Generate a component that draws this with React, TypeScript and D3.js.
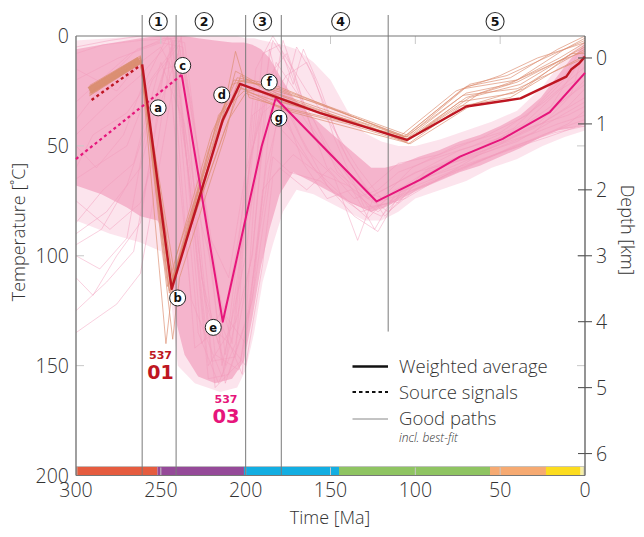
import React from 'react';
import * as d3 from 'd3';

const W = 644;
const H = 537;

const xTicks = [300, 250, 200, 150, 100, 50, 0];
const yTicks = [0, 50, 100, 150, 200];
const depthTicks = [0, 1, 2, 3, 4, 5, 6];
const minorX = [250, 200, 150, 100, 50];
const minorY = [50, 100, 150];
const periodBounds = [261, 241, 200, 179, 116];
const periodLabels = ['1', '2', '3', '4', '5'];
const periodLabelTimes = [251.5, 224.5, 190, 144, 53];
const eraStarts = [300, 252, 201, 145, 56, 23, 2.6];
const eraEnds = [252, 201, 145, 56, 23, 2.6, 0];
const eraColors = ['#E55C3F', '#954A99', '#13AEE2', '#8FC462', '#F6AA72', '#FCDC1E', '#F6EFA8'];

// weighted averages [Ma, °C]
const avg01: [number, number][] = [[261, 12.9], [243.6, 115.1], [213.5, 38.2], [203.4, 21.8], [156, 35.1], [105, 47.3], [70, 32.1], [38, 28.4], [11, 18.5], [8, 15.1], [3.4, 12.4], [0, 9.4]];
const avg03: [number, number][] = [[237.7, 17.7], [213.5, 130], [190.6, 50.3], [182.3, 28.3], [151.5, 52.7], [122.8, 75.3], [97.3, 65.5], [73.7, 54.9], [48.5, 46.8], [20.7, 34.6], [0, 16.8]];
const src01: [number, number][] = [[290.8, 29.1], [262.3, 13.5]];
const src03: [number, number][] = [[300, 56], [237.7, 17.7]];
// converged bundle of sample-01 paths before 262 Ma
const band01: [number, number][] = [[292, 24.8], [262.5, 11]];

// dense envelope of good paths, sample 03
const core03Time = [300, 285, 270, 262, 252, 246, 241, 236, 228, 218, 208, 201, 196, 191, 186, 180, 172, 162, 150, 138, 126, 118, 108, 98, 86, 74, 62, 50, 38, 26, 16, 8, 0];
const core03Top = [6, 4, 2, 1, 0, 0, 0, 0, 1, 2, 3, 3, 4, 6, 10, 18, 28, 36, 44, 52, 60, 60, 58, 55, 52, 48, 45, 41, 36, 28, 18, 10, 4];
const core03Bot = [68, 72, 78, 82, 84, 92, 130, 145, 155, 158, 156, 148, 128, 105, 88, 72, 62, 66, 71, 76, 80, 78, 74, 70, 66, 62, 59, 55, 51, 46, 43, 42, 40];

// looser envelope, sample 03
const loose03Time = [300, 280, 262, 250, 244, 240, 230, 215, 205, 200, 195, 190, 184, 178, 170, 160, 150, 140, 130, 120, 110, 100, 85, 70, 55, 40, 25, 12, 0];
const loose03Top = [2, 1, 0, 0, 0, 0, 0, 0, 0, 1, 1, 2, 3, 4, 6, 12, 20, 34, 44, 48, 50, 50, 47, 43, 39, 34, 23, 10, 2];
const loose03Bot = [84, 90, 94, 98, 120, 150, 158, 162, 160, 152, 135, 112, 95, 80, 70, 72, 76, 80, 84, 84, 80, 74, 70, 66, 60, 56, 50, 46, 43];

// individual good paths, sample 03
const paths03: [number, number][][] = [
  [[300, 8], [284, 4], [262, 2], [240, 1], [226, 60], [214, 150], [200, 100], [188, 20], [176, 8], [166, 30], [150, 52], [126, 80], [110, 70], [90, 60], [60, 52], [30, 44], [12, 30], [0, 20]],
  [[300, 20], [275, 10], [250, 3], [237, 5], [212, 158], [196, 120], [186, 40], [172, 30], [155, 50], [140, 66], [124, 88], [112, 72], [80, 62], [50, 53], [25, 45], [0, 38]],
  [[300, 45], [280, 30], [262, 18], [244, 2], [228, 80], [208, 140], [198, 60], [184, 2], [174, 15], [162, 40], [146, 58], [128, 74], [100, 62], [70, 56], [40, 48], [18, 38], [0, 30]],
  [[300, 65], [270, 50], [255, 20], [239, 4], [218, 160], [203, 148], [192, 90], [182, 40], [170, 50], [150, 70], [132, 80], [116, 76], [96, 68], [66, 58], [38, 50], [14, 42], [0, 41]],
  [[300, 90], [282, 80], [262, 60], [246, 10], [232, 120], [214, 155], [196, 100], [186, 6], [178, 30], [164, 52], [148, 64], [134, 93], [124, 72], [104, 64], [74, 52], [44, 45], [20, 32], [0, 8]],
  [[300, 100], [286, 106], [270, 92], [258, 40], [242, 2], [222, 150], [206, 130], [194, 30], [182, 20], [168, 45], [152, 68], [136, 82], [122, 89], [108, 70], [80, 58], [52, 50], [28, 40], [8, 26], [0, 5]],
  [[300, 125], [282, 112], [266, 98], [250, 30], [240, 8], [226, 140], [210, 120], [198, 80], [188, 45], [178, 2], [170, 20], [160, 45], [142, 60], [128, 70], [110, 58], [86, 54], [60, 46], [34, 36], [12, 18], [0, 3]],
  [[300, 135], [276, 122], [262, 108], [250, 55], [238, 0], [218, 145], [204, 152], [194, 110], [184, 55], [174, 62], [156, 66], [140, 75], [120, 82], [100, 66], [76, 60], [46, 52], [22, 46], [0, 40]],
  [[300, 110], [290, 118], [276, 100], [262, 85], [248, 15], [236, 12], [214, 125], [200, 140], [190, 70], [180, 60], [164, 70], [150, 60], [126, 78], [106, 74], [84, 64], [56, 55], [30, 47], [10, 40], [0, 34]],
  [[300, 5], [280, 2], [262, 0], [242, 0], [232, 30], [220, 100], [212, 145], [204, 95], [194, 15], [184, 0], [176, 10], [164, 25], [150, 40], [134, 60], [120, 74], [102, 60], [76, 50], [50, 44], [24, 30], [0, 14]],
  [[300, 30], [268, 8], [248, 1], [236, 3], [222, 90], [210, 110], [200, 62], [190, 35], [180, 28], [166, 58], [152, 74], [138, 70], [122, 80], [104, 68], [78, 56], [48, 48], [26, 40], [0, 28]],
  [[300, 75], [280, 88], [262, 76], [252, 50], [243, 2], [228, 135], [216, 158], [206, 140], [196, 98], [186, 18], [176, 40], [160, 60], [144, 72], [128, 83], [112, 70], [92, 64], [62, 54], [36, 46], [16, 40], [0, 36]],
  [[300, 95], [285, 88], [270, 68], [256, 35], [244, 5], [230, 142], [214, 132], [202, 154], [192, 40], [182, 12], [168, 28], [152, 60], [136, 74], [122, 70], [110, 62], [90, 56], [66, 50], [42, 42], [20, 26], [0, 10]],
  [[300, 50], [288, 60], [272, 45], [262, 25], [246, 0], [234, 60], [222, 156], [210, 154], [198, 126], [188, 60], [180, 35], [170, 5], [160, 18], [148, 46], [130, 78], [114, 76], [92, 60], [64, 52], [36, 40], [14, 24], [0, 18]],
  [[300, 15], [276, 25], [262, 12], [250, 5], [240, 20], [224, 130], [212, 138], [200, 150], [190, 104], [184, 64], [172, 54], [158, 62], [140, 68], [124, 76], [108, 72], [88, 66], [58, 52], [30, 42], [10, 32], [0, 24]],
  [[300, 60], [290, 45], [270, 35], [258, 22], [238, 1], [226, 110], [216, 140], [206, 100], [196, 52], [188, 24], [176, 28], [160, 38], [146, 62], [130, 72], [116, 80], [100, 70], [70, 60], [42, 50], [18, 44], [0, 41]],
  [[300, 38], [282, 20], [264, 6], [244, 1], [224, 120], [212, 150], [198, 70], [190, 8], [180, 4], [172, 22], [166, 6], [156, 24], [144, 50], [132, 66], [118, 82], [96, 64], [60, 50], [28, 38], [0, 22]],
  [[300, 85], [284, 70], [266, 58], [250, 12], [236, 40], [220, 148], [206, 146], [196, 36], [186, 30], [176, 18], [164, 12], [152, 34], [140, 56], [126, 72], [110, 76], [94, 62], [64, 54], [34, 42], [10, 36], [0, 32]],
];

// individual good paths, sample 01
const paths01: [number, number][][] = [
  [[292, 22.5], [262, 9], [244, 112], [214, 40], [204, 20], [180, 24], [105, 45], [72, 24], [40, 20], [12, 6], [0, 1]],
  [[292, 23.5], [262, 9.5], [245, 116], [218, 50], [206, 16], [182, 26], [106, 46], [70, 26], [45, 22], [15, 10], [0, 3]],
  [[292, 24.5], [262, 10.5], [243, 110], [212, 42], [202, 22], [178, 30], [104, 47], [68, 28], [38, 22], [10, 9], [0, 5]],
  [[292, 25.5], [262, 11], [244, 118], [216, 36], [203, 24], [180, 27], [105, 48], [74, 30], [42, 26], [14, 12], [0, 6]],
  [[292, 26.5], [262, 12], [246, 114], [220, 44], [205, 19], [184, 22], [107, 46], [70, 23], [44, 19], [16, 6], [0, 0]],
  [[292, 27.2], [262, 12.5], [242, 108], [210, 38], [200, 26], [176, 34], [103, 49], [66, 31], [36, 24], [8, 8], [0, 8]],
  [[292, 24], [262, 10], [247, 140], [241, 100], [214, 38], [206, 7], [198, 28], [180, 32], [104, 46], [72, 27], [40, 24], [12, 14], [0, 10]],
  [[292, 26], [262, 11.5], [243, 138], [239, 110], [212, 45], [203, 18], [180, 28], [105, 47], [70, 28], [40, 21], [12, 10], [0, 4]],
  [[292, 23], [262, 10], [244, 113], [222, 52], [207, 20], [186, 23], [150, 33], [105, 46], [68, 22], [46, 18], [18, 8], [0, 2]],
  [[292, 25], [262, 11], [245, 117], [216, 44], [204, 23], [178, 33], [140, 40], [106, 48], [74, 32], [44, 28], [18, 16], [0, 9]],
  [[292, 27], [262, 12], [243, 111], [214, 35], [201, 25], [180, 30], [130, 40], [104, 49], [62, 26], [40, 20], [14, 11], [0, 7]],
  [[292, 26], [262, 11], [244, 115], [218, 42], [208, 22], [200, 20], [182, 25], [160, 30], [108, 45], [76, 25], [50, 18], [28, 10], [0, 3]],
];

// point annotations [Ma, °C]
const markLetters = ['a', 'b', 'c', 'd', 'e', 'f', 'g'];
const markTimes = [251.6, 240.1, 237.1, 214.1, 219.1, 186.1, 180.4];
const markTemps = [32.7, 119.2, 13.4, 26.8, 132.6, 21, 37.4];

const legendLabels = ['Weighted average', 'Source signals', 'Good paths'];

const FONT = "'Open Sans', 'Noto Sans', sans-serif";
const BOLD = "'DejaVu Sans', sans-serif";

export default function App() {
  const x = d3.scaleLinear().domain([300, 0]).range([76, 585]);
  const y = d3.scaleLinear().domain([0, 200]).range([36, 475.5]);
  const yDepth = (d: number) => y(10 + 30 * d);
  const line = d3.line<[number, number]>().x(d => x(d[0])).y(d => y(d[1]));
  const area = (ts: number[], top: number[], bot: number[]) =>
    d3.area<number>().x((_, i) => x(ts[i])).y0((_, i) => y(top[i])).y1((_, i) => y(bot[i]))(ts) || '';

  const x0 = x(300), x1 = x(0), yTop = y(0), yBot = y(200);

  return (
    <div style={{ position: 'absolute', left: 0, top: 0 }}>
      <svg width={W} height={H} style={{ display: 'block', background: '#fff' }}>
        <defs>
          <clipPath id="plot">
            <rect x={x0} y={yTop} width={x1 - x0} height={yBot - yTop} />
          </clipPath>
        </defs>
        <g clipPath="url(#plot)">
          <path d={area(loose03Time, loose03Top, loose03Bot)} fill="#F7BCD1" opacity={0.4} />
          <path d={area(core03Time, core03Top, core03Bot)} fill="#F4AEC8" opacity={0.9} />
          {paths03.map((p, i) => (
            <path key={'p3' + i} d={line(p) || ''} fill="none" stroke="#F29DBC" strokeWidth={0.8} opacity={0.6} />
          ))}
          <path d={line(band01) || ''} fill="none" stroke="#D99378" strokeWidth={7.5} strokeLinecap="butt" />
          {paths01.map((p, i) => (
            <path key={'p1' + i} d={line(p) || ''} fill="none" stroke="#DC8E72" strokeWidth={0.9} opacity={0.75} />
          ))}
        </g>

        {/* geological time bar */}
        {eraStarts.map((s, i) => (
          <rect key={'era' + i} x={x(s)} y={466.5} width={x(eraEnds[i]) - x(s)} height={9} fill={eraColors[i]} />
        ))}
        <rect x={x0 + 1} y={466.5} width={x1 - x0 - 2} height={9} fill="none" stroke="#bbb" strokeWidth={0.8} />

        {/* faint inner ticks */}
        {minorX.map(t => (
          <g key={'mx' + t}>
            <line x1={x(t)} x2={x(t)} y1={yTop} y2={yTop + 8} stroke="#c8c8c8" strokeWidth={1} />
            <line x1={x(t)} x2={x(t)} y1={yBot} y2={yBot - 8} stroke="#c8c8c8" strokeWidth={1} />
          </g>
        ))}
        {minorY.map(t => (
          <g key={'my' + t}>
            <line x1={x0} x2={x0 + 8} y1={y(t)} y2={y(t)} stroke="#c8c8c8" strokeWidth={1} />
            <line x1={x1} x2={x1 - 8} y1={y(t)} y2={y(t)} stroke="#c8c8c8" strokeWidth={1} />
          </g>
        ))}

        {/* period boundaries */}
        {periodBounds.map((t, i) => (
          <line key={'pb' + t} x1={x(t)} x2={x(t)} y1={15} y2={i === 4 ? y(134.5) : yBot} stroke="#7a7a7a" strokeWidth={1} />
        ))}

        {/* frame */}
        <line x1={x0} x2={x1} y1={yTop} y2={yTop} stroke="#777" strokeWidth={1.2} />
        <line x1={x0} x2={x1} y1={yBot} y2={yBot} stroke="#777" strokeWidth={1.2} />
        <line x1={x0} x2={x0} y1={yTop} y2={yBot} stroke="#777" strokeWidth={1.4} />
        <line x1={x1} x2={x1} y1={yTop} y2={yBot} stroke="#666" strokeWidth={1.4} />

        {/* source signals */}
        <path d={line(src01) || ''} fill="none" stroke="#BE1622" strokeWidth={2.4} strokeDasharray="3,3" />
        <path d={line(src03) || ''} fill="none" stroke="#E6157B" strokeWidth={2.2} strokeDasharray="3,3" />

        {/* weighted averages */}
        <path d={line(avg03) || ''} fill="none" stroke="#E6157B" strokeWidth={2} strokeLinejoin="round" />
        <path d={line(avg01) || ''} fill="none" stroke="#BE1622" strokeWidth={2.4} strokeLinejoin="round" />

        {/* point labels */}
        {markLetters.map((l, i) => (
          <g key={'m' + l} transform={`translate(${x(markTimes[i])},${y(markTemps[i])})`}>
            <circle r={8} fill="#fff" stroke="#222" strokeWidth={1} />
            <text y={4.2} textAnchor="middle" fontFamily={BOLD} fontWeight="bold" fontSize={11.5} fill="#111">{l}</text>
          </g>
        ))}

        {/* period numbers */}
        {periodLabels.map((l, i) => (
          <g key={'pl' + l} transform={`translate(${x(periodLabelTimes[i])},21.5)`}>
            <circle r={9} fill="#fff" stroke="#333" strokeWidth={1.1} />
            <text y={4.5} textAnchor="middle" fontFamily={BOLD} fontWeight="bold" fontSize={12.5} fill="#111">{l}</text>
          </g>
        ))}

        {/* sample labels */}
        <text x={160.5} y={359} textAnchor="middle" fontFamily={BOLD} fontWeight="bold" fontSize={11} fill="#BE1622">537</text>
        <text x={160.5} y={378.5} textAnchor="middle" fontFamily={BOLD} fontWeight="bold" fontSize={19} fill="#BE1622">01</text>
        <text x={226} y={402.5} textAnchor="middle" fontFamily={BOLD} fontWeight="bold" fontSize={11} fill="#E6157B">537</text>
        <text x={226} y={422.5} textAnchor="middle" fontFamily={BOLD} fontWeight="bold" fontSize={19.5} fill="#E6157B">03</text>

        {/* x ticks */}
        {xTicks.map(t => (
          <text key={'xt' + t} x={x(t)} y={497} textAnchor="middle" fontFamily={FONT} fontWeight={300} fontSize={19.5} fill="#333">{t}</text>
        ))}
        {/* y ticks */}
        {yTicks.map(t => (
          <text key={'yt' + t} x={69} y={y(t) + 7} textAnchor="end" fontFamily={FONT} fontWeight={300} fontSize={19.5} fill="#333">{t}</text>
        ))}
        {/* depth ticks */}
        {depthTicks.map(d => (
          <g key={'dt' + d}>
            <line x1={x1 - 7} x2={x1 + 7} y1={yDepth(d)} y2={yDepth(d)} stroke="#555" strokeWidth={1.1} />
            <text x={596} y={yDepth(d) + 7} fontFamily={FONT} fontWeight={300} fontSize={19.5} fill="#333">{d}</text>
          </g>
        ))}

        {/* axis titles */}
        <text transform="translate(25,232) rotate(-90)" textAnchor="middle" fontFamily={FONT} fontWeight={300} fontSize={18} fill="#333">Temperature [˚C]</text>
        <text x={330} y={524} textAnchor="middle" fontFamily={FONT} fontWeight={300} fontSize={18} fill="#333">Time [Ma]</text>
        <text transform="translate(621,230) rotate(90)" textAnchor="middle" fontFamily={FONT} fontWeight={300} fontSize={18} fill="#333">Depth [km]</text>

        {/* legend */}
        <line x1={352.5} x2={388} y1={366.5} y2={366.5} stroke="#111" strokeWidth={2.4} />
        <line x1={352.5} x2={388} y1={392} y2={392} stroke="#111" strokeWidth={2} strokeDasharray="3.5,3" />
        <line x1={352.5} x2={388} y1={419} y2={419} stroke="#888" strokeWidth={1} />
        {legendLabels.map((l, i) => (
          <text key={'lg' + i} x={399} y={373 + i * 26} fontFamily={FONT} fontWeight={300} fontSize={18.5} fill="#333">{l}</text>
        ))}
        <text x={399} y={442} fontFamily={FONT} fontStyle="italic" fontWeight={300} fontSize={12} fill="#333">incl. best-fit</text>
      </svg>
    </div>
  );
}
